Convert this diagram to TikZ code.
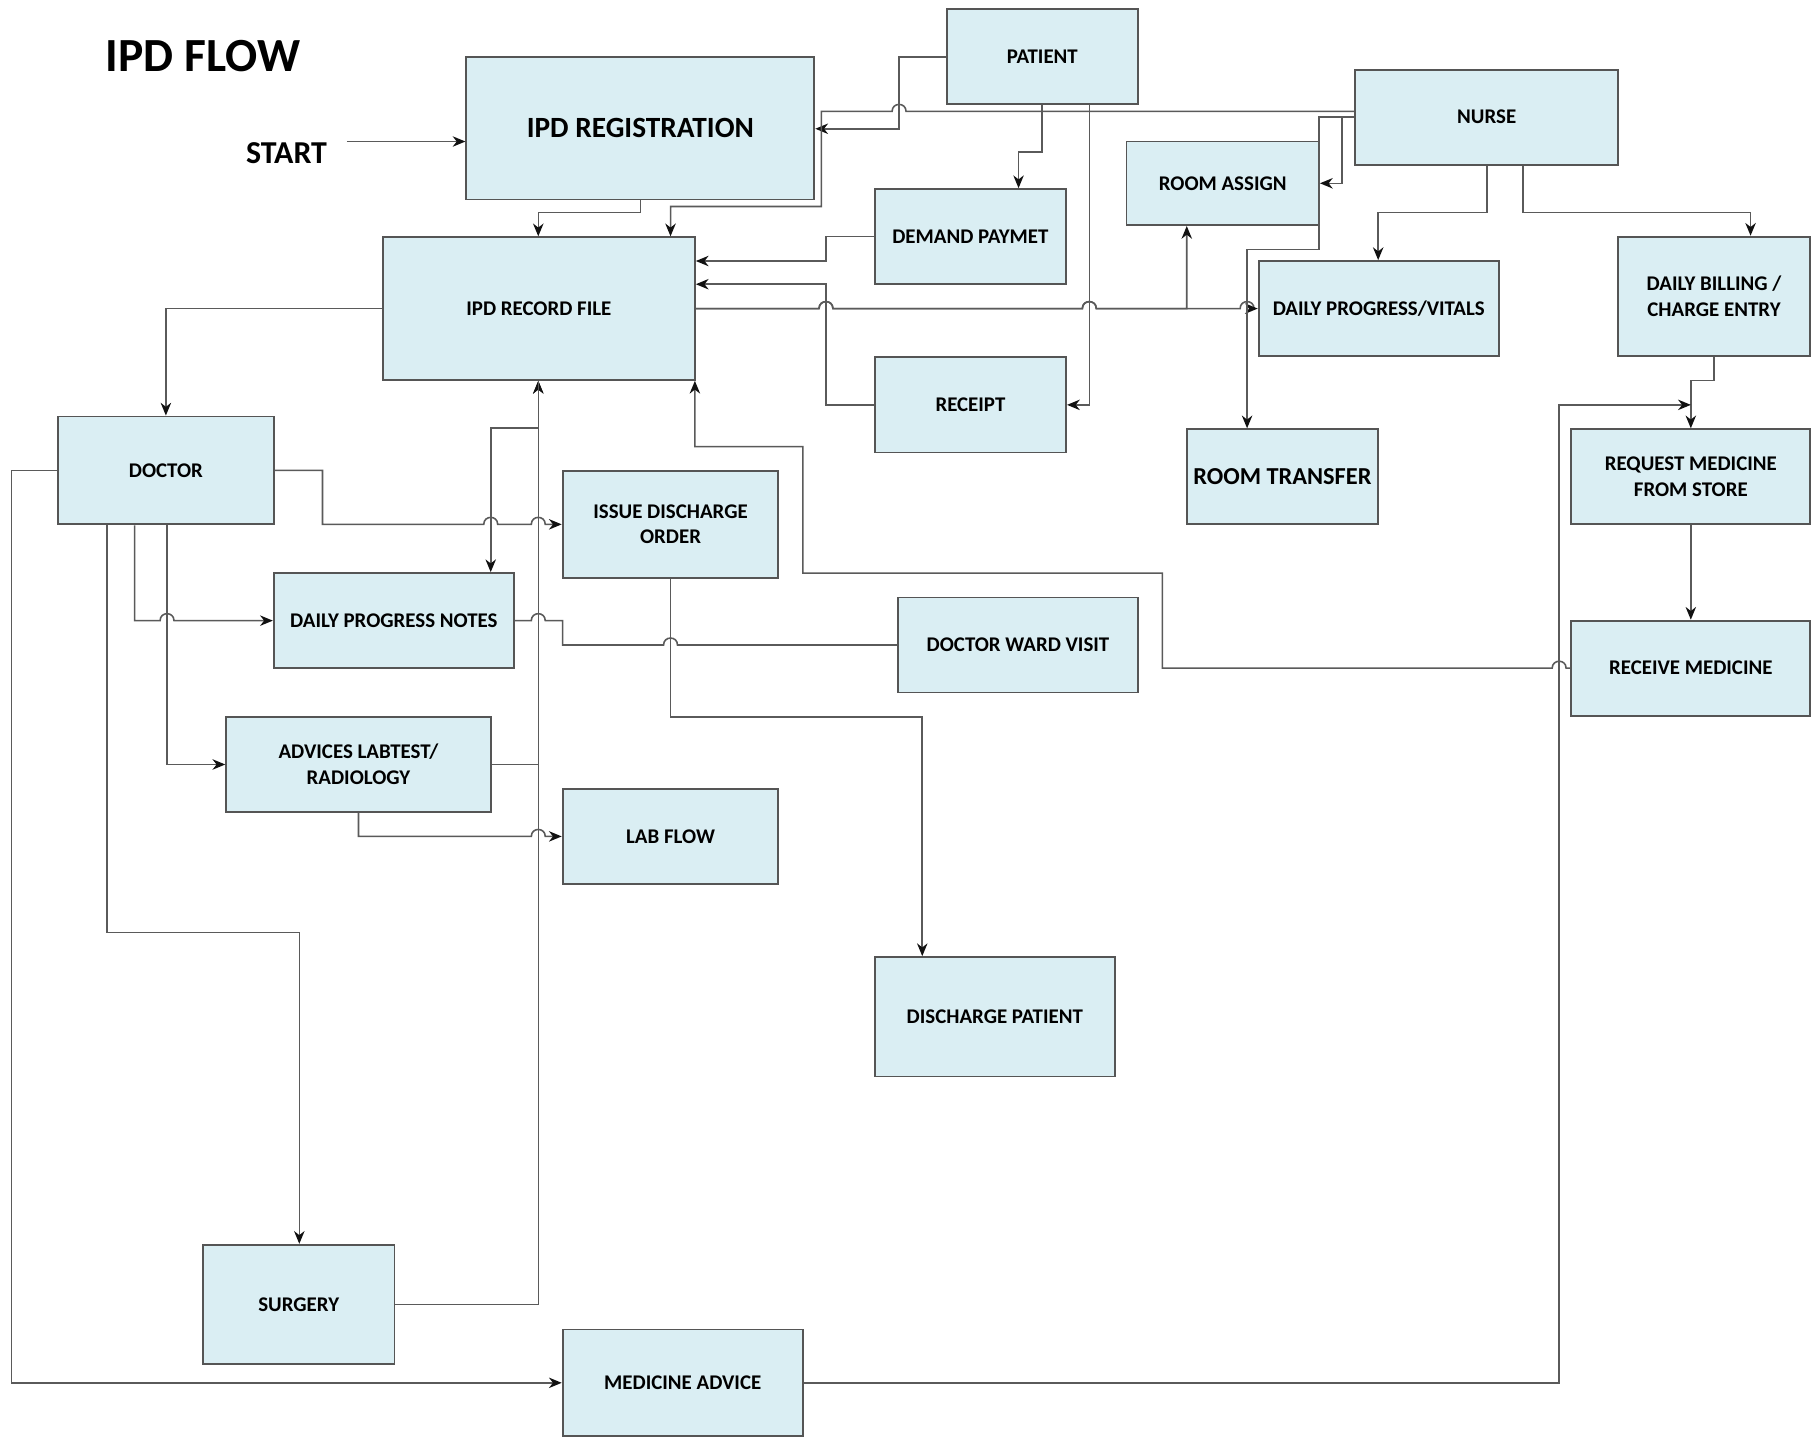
\documentclass[tikz,border=0pt]{standalone}
\usepackage{fontspec}
\setmainfont{Carlito}
\usetikzlibrary{arrows.meta}
\definecolor{boxfill}{HTML}{DAEEF3}
\definecolor{boxline}{HTML}{555555}
\definecolor{linec}{HTML}{5A5A5A}
\definecolor{tipc}{HTML}{111111}
\begin{document}
\begin{tikzpicture}[x=1pt,y=-1pt,
  box/.style={draw=boxline, fill=boxfill, line width=1.6pt, inner sep=0pt, align=center,
              font=\bfseries\fontsize{18}{22}\selectfont},
  conn/.style={draw=linec, line width=1.35pt},
  arr/.style={conn, -{Stealth[length=11pt,width=9pt,inset=3.5pt,color=tipc]}},
  hopr/.style args={#1/#2}{insert path={-- (#1-6,#2) .. controls (#1-6,#2-8) and (#1+6,#2-8) .. (#1+6,#2)}},
  hopl/.style args={#1/#2}{insert path={-- (#1+6,#2) .. controls (#1+6,#2-8) and (#1-6,#2-8) .. (#1-6,#2)}},
]
\useasboundingbox (0,0) rectangle (1568,1238);
\clip (0,0) rectangle (1568,1238);
\fill[white] (0,0) rectangle (1568,1238);

% titles
\node[font=\bfseries\fontsize{41}{48}\selectfont] (title) at (175,48) {IPD FLOW};
\node[font=\bfseries\fontsize{27.5}{32}\selectfont] (start) at (247,132) {START};
\coordinate (s0) at (299,122);

% boxes
\node[box, minimum width=165, minimum height=82] (pat) at (898.5,49) {PATIENT};
\node[box, minimum width=300, minimum height=123, font=\bfseries\fontsize{25.3}{30}\selectfont] (reg) at (552,110.5) {IPD REGISTRATION};
\node[box, minimum width=227, minimum height=82] (nurse) at (1281.5,101) {NURSE};
\node[box, minimum width=166, minimum height=72] (ra) at (1054,158) {ROOM ASSIGN};
\node[box, minimum width=165, minimum height=82] (dpay) at (836.5,204) {DEMAND PAYMET};
\node[box, minimum width=269, minimum height=123] (rec) at (464.5,266) {IPD RECORD FILE};
\node[box, minimum width=207, minimum height=82] (vit) at (1188.5,266) {DAILY PROGRESS/VITALS};
\node[box, minimum width=165, minimum height=103] (bill) at (1477.5,255.5) {DAILY BILLING /\\CHARGE ENTRY};
\node[box, minimum width=165, minimum height=82] (rcpt) at (836.5,349) {RECEIPT};
\node[box, minimum width=165, minimum height=82, font=\bfseries\fontsize{21}{25}\selectfont] (rt) at (1105.5,411) {ROOM TRANSFER};
\node[box, minimum width=206, minimum height=82] (req) at (1457.5,411) {REQUEST MEDICINE\\FROM STORE};
\node[box, minimum width=186, minimum height=93] (doc) at (143,405.5) {DOCTOR};
\node[box, minimum width=186, minimum height=92] (ido) at (578,452) {ISSUE DISCHARGE\\ORDER};
\node[box, minimum width=207, minimum height=82] (dpn) at (339.5,535) {DAILY PROGRESS NOTES};
\node[box, minimum width=207, minimum height=82] (dwv) at (877.5,556) {DOCTOR WARD VISIT};
\node[box, minimum width=206, minimum height=82] (rmed) at (1457.5,576) {RECEIVE MEDICINE};
\node[box, minimum width=228, minimum height=82] (adv) at (309,659) {ADVICES LABTEST/\\RADIOLOGY};
\node[box, minimum width=186, minimum height=82] (lab) at (578,721) {LAB FLOW};
\node[box, minimum width=207, minimum height=103] (dis) at (857.5,876.5) {DISCHARGE PATIENT};
\node[box, minimum width=165, minimum height=103] (surg) at (257.5,1124.5) {SURGERY};
\node[box, minimum width=207, minimum height=92] (madv) at (588.5,1192) {MEDICINE ADVICE};

% connectors
\draw[arr] (s0) -- (s0 -| reg.west);
\draw[arr] (pat.west) -| (775,111) -- (775,111 -| reg.east);
\draw[arr] (nurse.west |- 0,96) [hopl=775/96] -- (708,96) -- (708,178) -- (578,178) -- (578,0 |- rec.north);
\draw[arr] (552,0 |- reg.south) -- (552,183) -- (464,183) -- (464,0 |- rec.north);
\draw[arr] (898,0 |- pat.south) -- (898,131) -- (878,131) -- (878,0 |- dpay.north);
\draw[arr] (939,0 |- pat.south) -- (939,349) -- (rcpt.east);
\draw[arr] (dpay.west) -- (712,204) -- (712,225) -- (712,225 -| rec.east);
\draw[arr] (rcpt.west) -- (712,349) -- (712,245) -- (712,245 -| rec.east);
\draw[arr] (rec.east) [hopr=712/266] [hopr=939/266] [hopr=1075/266] -- (vit.west);
\draw[arr] (rec.east) [hopr=712/266] [hopr=939/266] -- (1023,266) -- (1023,0 |- ra.south);
\draw[arr] (nurse.west |- 0,101) -- (1157,101) -- (1157,158) -- (ra.east);
\draw[arr] (nurse.west |- 0,101) -- (1137,101) -- (1137,215) -- (1075,215) -- (1075,0 |- rt.north);
\draw[arr] (1282,0 |- nurse.south) -- (1282,183) -- (1188,183) -- (1188,0 |- vit.north);
\draw[arr] (1313,0 |- nurse.south) -- (1313,183) -- (1509,183) -- (1509,0 |- bill.north);
\draw[arr] (bill.south) -- (1477.5,328) -- (1457.5,328) -- (req.north);
\draw[arr] (madv.east) -- (1344,1192) -- (1344,349) -- (1457.5,349);
\draw[arr] (req.south) -- (rmed.north);
\draw[arr] (rmed.west) [hopl=1344/576] -- (1002,576) -- (1002,494) -- (692,494) -- (692,385) -- (599,385) -- (599,0 |- rec.south);
\draw[arr] (rec.west) -| (doc.north);
\draw[arr] (doc.east) -- (278,405.5) -- (278,452) [hopr=423/452] [hopr=464/452] -- (ido.west);
\draw[arr] (116,0 |- doc.south) -- (116,535) [hopr=144/535] -- (dpn.west);
\draw[arr] (144,0 |- doc.south) -- (144,659) -- (adv.west);
\draw[arr] (92,0 |- doc.south) -- (92,804) -- (258,804) -- (258,0 |- surg.north);
\draw[arr] (doc.west) -- (10,405.5) -- (10,1192) -- (madv.west);
\draw[arr] (adv.east) -- (464,659) -- (464,0 |- rec.south);
\draw[arr] (surg.east) -- (464,1124.5) -- (464,0 |- rec.south);
\draw[arr] (464,0 |- rec.south) -- (464,369) -- (423,369) -- (423,0 |- dpn.north);
\draw[conn] (dpn.east) [hopr=464/535] -- (485,535) -- (485,556) [hopr=578/556] -- (dwv.west);
\draw[arr] (ido.south) -- (578,618) -- (795,618) -- (795,0 |- dis.north);
\draw[arr] (adv.south) -- (309,721) [hopr=464/721] -- (lab.west);
\end{tikzpicture}
\end{document}
